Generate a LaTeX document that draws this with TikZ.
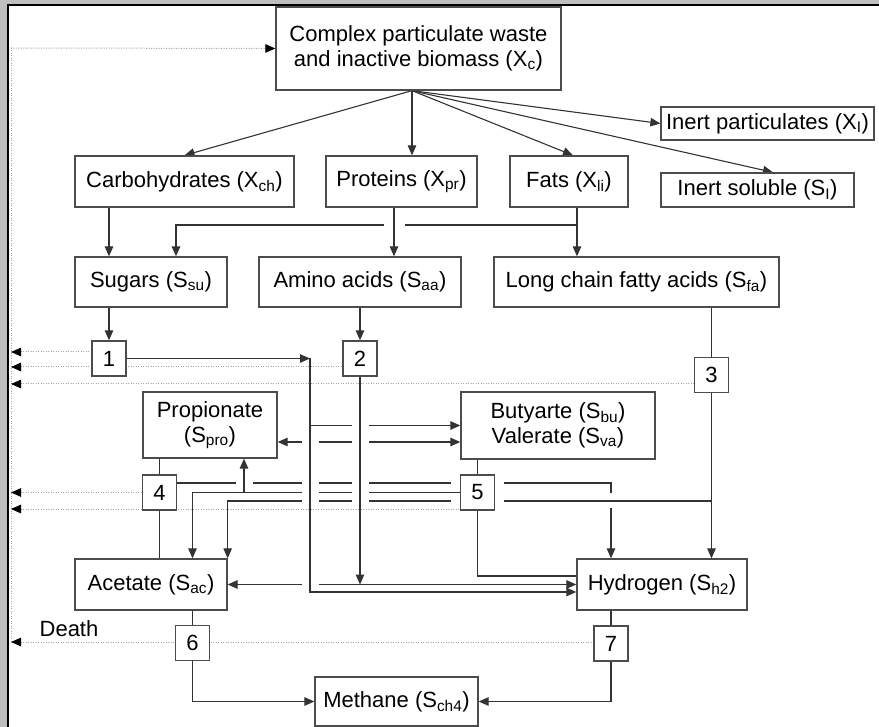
\documentclass[tikz,border=0pt]{standalone}
\usepackage{fontspec}
\setmainfont{Liberation Sans}
\usetikzlibrary{arrows.meta,backgrounds}

\newcommand\gapat[2][8.5]{\fill[white] #2 ++(-#1,-3) rectangle ++(2*#1,6);}

\begin{document}
\begin{tikzpicture}[x=1pt,y=-1pt,font=\fontsize{22}{25}\selectfont,
    line/.style={black!80,line width=1.1pt},
    arr/.style={line,-{Triangle[length=10pt,width=8.5pt]}},
    arrs/.style={line,{Triangle[length=10pt,width=8.5pt]}-{Triangle[length=10pt,width=8.5pt]}},
    ret/.style={black!35,line width=1pt,dash pattern=on 1pt off 1.5pt},
    retl/.style={ret,{Triangle[length=10pt,width=8.5pt,color=black]}-}]

  \useasboundingbox (0,0) rectangle (879,727);

  \begin{scope}[every node/.style={draw=black!70,fill=white,line width=1.3pt,inner sep=0pt,align=center}]
    \node (xc)    at (418.5,48.5) [minimum width=285,minimum height=83] {Complex particulate waste\\and inactive biomass (X\textsubscript{c})};
    \node (carb)  at (184.5,181.5) [minimum width=219,minimum height=51] {Carbohydrates (X\textsubscript{ch})};
    \node (prot)  at (401.5,181.5) [minimum width=151,minimum height=51] {Proteins (X\textsubscript{pr})};
    \node (fats)  at (569,181.5)   [minimum width=118,minimum height=51] {Fats (X\textsubscript{li})};
    \node (ipart) at (767.5,123.5) [minimum width=213,minimum height=33] {Inert particulates (X\textsubscript{I})};
    \node (isol)  at (757.5,190)   [minimum width=193,minimum height=34] {Inert soluble (S\textsubscript{I})};
    \node (sugar) at (151,282)     [minimum width=152,minimum height=50] {Sugars (S\textsubscript{su})};
    \node (amino) at (360,282)     [minimum width=202,minimum height=50] {Amino acids (S\textsubscript{aa})};
    \node (lcfa)  at (636.5,282)   [minimum width=285,minimum height=50] {Long chain fatty acids (S\textsubscript{fa})};
    \node (prop)  at (210,425)     [minimum width=134,minimum height=66] {Propionate\\(S\textsubscript{pro})};
    \node (buty)  at (558,425.5)   [minimum width=194,minimum height=67] {Butyarte (S\textsubscript{bu})\\Valerate (S\textsubscript{va})};
    \node (acet)  at (151,584.5)   [minimum width=152,minimum height=51] {Acetate (S\textsubscript{ac})};
    \node (hydr)  at (662,584.5)   [minimum width=170,minimum height=51] {Hydrogen (S\textsubscript{h2})};
    \node (meth)  at (396.5,701.5) [minimum width=163,minimum height=49] {Methane (S\textsubscript{ch4})};
  \end{scope}

  \begin{scope}[every node/.style={draw=black!70,fill=white,line width=1.3pt,inner sep=0pt,minimum width=34,minimum height=35}]
    \node (1) at (109,358.5)   {1};
    \node (2) at (360,358.5)   {2};
    \node (3) at (711.5,375)   {3};
    \node (4) at (159.5,492.5) {4};
    \node (5) at (477.5,492.5) {5};
    \node (6) at (192.5,643)   {6};
    \node (7) at (611,643.5)   {7};
  \end{scope}

  \node (death) at (69,629) {Death};

  \coordinate (fan) at ([xshift=-6.5pt]xc.south);
  \coordinate (pr)  at ([xshift=-7.5pt]prot.south);
  \coordinate (fl)  at ([xshift=8pt]fats.south);
  \coordinate (gly) at (fl |- 0,225);
  \coordinate (s1)  at (310,358.5);
  \coordinate (up)  at (244,492.5);

  \begin{scope}[on background layer]
    \fill[black!25] (0,0) rectangle (879,727);
    \fill[white] (8.5,6) rectangle (879,727);
    \draw[black,line width=2pt] (7.5,727) -- (7.5,5) -- (879,5);

    % return lines
    \draw[ret] (11,48) -- (11,642);
    \draw[ret,-{Triangle[length=10pt,width=8.5pt,color=black]}] (11,48) -- (xc.west);
    \draw[retl] (11,352) -- (1.west |- 0,352);
    \draw[retl] (11,367) -- (2.west |- 0,367);
    \draw[retl] (11,384) -- (3.west |- 0,384);
    \draw[retl] (11,492.5) -- (4.west);
    \draw[retl] (11,509) -- (5.west |- 0,509);
    \draw[retl] (11,642) -- (7.west |- 0,642);

    % crossing lines
    \draw[arr] ([yshift=9.5pt]4.east) -| (7 |- hydr.north);
    \fill[white] (607,493) rectangle (615,508);
    \draw[arr] (3 |- 0,501) -| (acet.north east);
    \draw[arrs] ([yshift=-17pt]prop.east) -- ([yshift=-16.5pt]buty.west);
    \draw[arrs] (acet.east) -- (hydr.west);
    \draw[arr] (gly) -| ([xshift=25pt]sugar.north);
    \draw[arr] (5.west) -| (6 |- acet.north);

    \foreach \y in {442,483,492.5,501,584.5} {\gapat{(s1 |- 0,\y)}}
    \gapat{(up |- 0,483)}
    \gapat[10.5]{(pr |- gly)}
    \fill[white] (451,479) rectangle (504,487);
    \fill[white] (451,497) rectangle (504,505);
    \draw[arr] (s1 |- buty.west) -- (buty.west);
    \foreach \y in {425.5,442,483,492.5,501} {\gapat{(2 |- 0,\y)}}

    \draw[arr] (1.east) -- (s1);
    \draw[arr] (s1) |- ([yshift=-7.5pt]hydr.west);
    \draw[arr] (2.south) -- (2 |- acet.east);
    \draw[arr] (up) -- (up |- prop.south);
    \draw[arr] (pr) -- (pr |- amino.north);

    % plain lines
    \draw[arr] (fan) -- (carb.north);
    \draw[arr] (fan) -- (fan |- prot.north);
    \draw[arr] (fan) -- ([xshift=4pt]fats.north);
    \draw[arr] (fan) -- (ipart.west);
    \draw[arr] (fan) -- ([xshift=15.5pt]isol.north);
    \draw[arr] (fl) -- (fl |- lcfa.north);
    \draw[arr] (carb.south -| 1) -- (sugar.north -| 1);
    \draw[arr] (sugar.south -| 1) -- (1.north);
    \draw[arr] (amino.south) -- (2.north);
    \draw[line] (lcfa.south -| 3) -- (3.north);
    \draw[arr] (3.south) -- (3 |- hydr.north);
    \draw[line] (prop.south -| 4) -- (4.north);
    \draw[line] (4.south) -- (4 |- acet.north);
    \draw[line] (buty.south -| 5) -- (5.north);
    \draw[line] (5.south) |- ([yshift=8.5pt]hydr.west);
    \draw[line] (acet.south -| 6) -- (6.north);
    \draw[arr] (6.south) |- (meth.west);
    \draw[line] (hydr.south -| 7) -- (7.north);
    \draw[arr] (7.south) |- (meth.east);
  \end{scope}

\end{tikzpicture}
\end{document}
